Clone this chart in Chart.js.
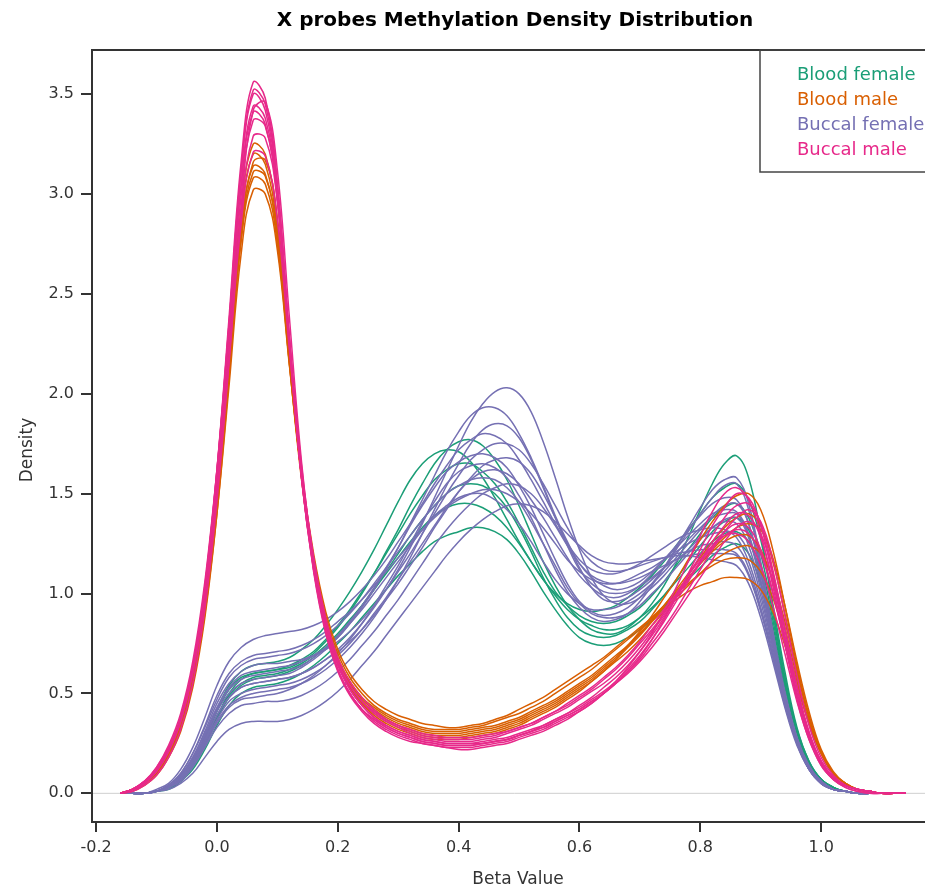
<!DOCTYPE html>
<html lang="en">
<head>
<meta charset="UTF-8">
<title>X probes Methylation Density Distribution</title>
<style>
    body {
        margin: 0;
        background: #fff;
        overflow: hidden;
    }
    #densityChart {
        display: block;
    }
</style>
</head>
<body>
<canvas id="densityChart" width="937" height="891"></canvas>

<script src="https://cdn.jsdelivr.net/npm/chart.js@4.4.0/dist/chart.umd.min.js"></script>
<script>
// beta value grid shared by every density curve
const betaGrid = [
    -0.16, -0.14, -0.12, -0.10, -0.08, -0.06, -0.04, -0.02, 0.00, 0.02,
    0.04, 0.06, 0.08, 0.10, 0.12, 0.14, 0.16, 0.18, 0.20, 0.22,
    0.24, 0.26, 0.28, 0.30, 0.32, 0.34, 0.36, 0.38, 0.40, 0.42,
    0.44, 0.46, 0.48, 0.50, 0.52, 0.54, 0.56, 0.58, 0.60, 0.62,
    0.64, 0.66, 0.68, 0.70, 0.72, 0.74, 0.76, 0.78, 0.80, 0.82,
    0.84, 0.86, 0.88, 0.90, 0.92, 0.94, 0.96, 0.98, 1.00, 1.02,
    1.04, 1.06, 1.08, 1.10, 1.12, 1.14
];

const xTicks = [-0.2, 0.0, 0.2, 0.4, 0.6, 0.8, 1.0];
const yTicks = [0.0, 0.5, 1.0, 1.5, 2.0, 2.5, 3.0, 3.5];

const groupNames = ['Blood female', 'Blood male', 'Buccal female', 'Buccal male'];

// Buccal male
const buccalMale = [
    [0.00,0.02,0.05,0.11,0.21,0.36,0.61,1.02,1.62,2.38, 3.16,3.56,3.48,3.06,2.28,1.58,1.11,0.80,0.61,0.49,
     0.41,0.35,0.31,0.28,0.26,0.25,0.24,0.23,0.23,0.23, 0.24,0.25,0.26,0.28,0.30,0.32,0.35,0.38,0.41,0.45,
     0.50,0.55,0.61,0.68,0.77,0.87,0.98,1.10,1.22,1.34, 1.43,1.50,1.48,1.34,1.09,0.79,0.50,0.28,0.14,0.07,
     0.03,0.01,0.00,0.00,0.00,0.00],
    [0.00,0.02,0.06,0.12,0.22,0.38,0.63,1.04,1.62,2.35, 3.11,3.50,3.42,3.02,2.26,1.58,1.12,0.82,0.62,0.50,
     0.42,0.37,0.33,0.30,0.28,0.26,0.25,0.24,0.24,0.24, 0.25,0.26,0.27,0.29,0.31,0.34,0.37,0.40,0.44,0.48,
     0.53,0.58,0.64,0.71,0.79,0.88,0.98,1.09,1.19,1.29, 1.38,1.44,1.45,1.35,1.12,0.83,0.54,0.31,0.16,0.08,
     0.04,0.02,0.01,0.00,0.00,0.00],
    [0.00,0.02,0.06,0.12,0.22,0.37,0.62,1.02,1.58,2.30, 3.05,3.44,3.38,3.00,2.25,1.58,1.13,0.83,0.64,0.52,
     0.44,0.38,0.34,0.31,0.29,0.27,0.26,0.25,0.25,0.25, 0.26,0.27,0.28,0.30,0.32,0.34,0.37,0.40,0.43,0.47,
     0.51,0.56,0.62,0.69,0.77,0.86,0.96,1.06,1.16,1.26, 1.34,1.40,1.39,1.28,1.06,0.78,0.50,0.29,0.15,0.08,
     0.04,0.02,0.01,0.00,0.00,0.00],
    [0.00,0.02,0.06,0.13,0.23,0.38,0.63,1.01,1.55,2.25, 2.99,3.37,3.34,2.98,2.26,1.61,1.16,0.86,0.66,0.54,
     0.46,0.40,0.36,0.33,0.30,0.28,0.27,0.26,0.26,0.26, 0.27,0.28,0.30,0.32,0.34,0.37,0.40,0.43,0.47,0.51,
     0.55,0.60,0.66,0.73,0.81,0.89,0.98,1.07,1.16,1.24, 1.31,1.35,1.33,1.22,1.01,0.75,0.49,0.29,0.16,0.08,
     0.04,0.02,0.01,0.00,0.00,0.00],
    [0.00,0.01,0.05,0.11,0.21,0.36,0.60,0.97,1.50,2.18, 2.90,3.29,3.28,2.96,2.28,1.64,1.18,0.86,0.65,0.52,
     0.44,0.38,0.34,0.31,0.29,0.27,0.26,0.25,0.25,0.25, 0.25,0.26,0.27,0.29,0.31,0.33,0.36,0.39,0.42,0.46,
     0.50,0.55,0.61,0.67,0.75,0.83,0.92,1.02,1.12,1.22, 1.31,1.38,1.42,1.36,1.17,0.89,0.59,0.34,0.18,0.09,
     0.04,0.02,0.01,0.00,0.00,0.00],
    [0.00,0.02,0.06,0.12,0.22,0.37,0.61,0.98,1.50,2.16, 2.85,3.21,3.19,2.87,2.22,1.62,1.18,0.88,0.68,0.56,
     0.48,0.42,0.37,0.34,0.31,0.29,0.28,0.27,0.27,0.27, 0.28,0.29,0.31,0.33,0.35,0.38,0.41,0.45,0.49,0.53,
     0.58,0.63,0.69,0.76,0.84,0.92,1.00,1.09,1.17,1.24, 1.29,1.30,1.26,1.14,0.94,0.70,0.46,0.27,0.15,0.07,
     0.04,0.02,0.01,0.00,0.00,0.00],
    [0.00,0.01,0.04,0.09,0.18,0.32,0.55,0.92,1.46,2.16, 2.93,3.42,3.46,3.12,2.38,1.66,1.16,0.83,0.62,0.50,
     0.42,0.36,0.32,0.29,0.27,0.25,0.24,0.23,0.22,0.22, 0.23,0.24,0.25,0.27,0.29,0.31,0.34,0.37,0.41,0.45,
     0.50,0.56,0.63,0.71,0.80,0.91,1.03,1.16,1.29,1.41, 1.50,1.53,1.47,1.30,1.04,0.75,0.47,0.27,0.14,0.07,
     0.03,0.01,0.00,0.00,0.00,0.00],
    [0.00,0.02,0.06,0.13,0.24,0.40,0.66,1.06,1.62,2.32, 3.04,3.41,3.35,2.97,2.24,1.59,1.15,0.85,0.66,0.54,
     0.46,0.41,0.37,0.34,0.32,0.30,0.29,0.28,0.28,0.28, 0.29,0.30,0.31,0.33,0.35,0.38,0.41,0.44,0.48,0.52,
     0.57,0.62,0.68,0.75,0.82,0.90,0.99,1.07,1.15,1.23, 1.29,1.32,1.30,1.20,1.00,0.75,0.50,0.30,0.16,0.08,
     0.04,0.02,0.01,0.00,0.00,0.00],
    [0.00,0.02,0.05,0.11,0.21,0.37,0.62,1.03,1.61,2.35, 3.12,3.52,3.45,3.04,2.27,1.58,1.12,0.81,0.62,0.50,
     0.42,0.37,0.33,0.30,0.28,0.26,0.25,0.24,0.24,0.24, 0.25,0.26,0.27,0.29,0.31,0.33,0.36,0.39,0.42,0.46,
     0.50,0.55,0.60,0.66,0.73,0.81,0.90,0.99,1.08,1.17, 1.26,1.33,1.36,1.30,1.10,0.82,0.53,0.30,0.16,0.08,
     0.04,0.02,0.01,0.00,0.00,0.00]
];

// Blood male
const bloodMale = [
    [0.00,0.02,0.05,0.11,0.21,0.36,0.60,0.98,1.53,2.23, 2.93,3.25,3.20,2.86,2.20,1.59,1.15,0.85,0.65,0.53,
     0.45,0.39,0.35,0.32,0.30,0.28,0.27,0.27,0.27,0.28, 0.29,0.30,0.32,0.34,0.37,0.40,0.43,0.47,0.51,0.56,
     0.61,0.67,0.74,0.81,0.89,0.98,1.07,1.17,1.27,1.36, 1.44,1.49,1.50,1.42,1.22,0.94,0.64,0.39,0.21,0.10,
     0.05,0.02,0.01,0.00,0.00,0.00],
    [0.00,0.02,0.05,0.11,0.20,0.35,0.58,0.96,1.50,2.19, 2.88,3.20,3.15,2.82,2.18,1.59,1.16,0.86,0.66,0.54,
     0.46,0.41,0.37,0.34,0.32,0.30,0.29,0.29,0.29,0.30, 0.31,0.32,0.34,0.36,0.39,0.42,0.45,0.49,0.53,0.57,
     0.62,0.67,0.73,0.79,0.86,0.94,1.02,1.10,1.18,1.26, 1.33,1.38,1.40,1.34,1.16,0.90,0.62,0.38,0.21,0.10,
     0.05,0.02,0.01,0.00,0.00,0.00],
    [0.00,0.02,0.05,0.11,0.20,0.34,0.57,0.94,1.47,2.15, 2.82,3.14,3.10,2.78,2.15,1.57,1.15,0.86,0.67,0.55,
     0.47,0.42,0.38,0.35,0.33,0.31,0.30,0.30,0.30,0.31, 0.32,0.33,0.35,0.37,0.40,0.43,0.46,0.50,0.54,0.58,
     0.63,0.68,0.74,0.80,0.87,0.94,1.01,1.08,1.15,1.21, 1.26,1.29,1.29,1.22,1.06,0.83,0.58,0.36,0.20,0.10,
     0.05,0.02,0.01,0.00,0.00,0.00],
    [0.00,0.02,0.05,0.11,0.21,0.35,0.58,0.94,1.45,2.10, 2.76,3.08,3.05,2.75,2.15,1.59,1.18,0.89,0.70,0.58,
     0.50,0.44,0.40,0.37,0.35,0.33,0.32,0.32,0.32,0.33, 0.34,0.36,0.38,0.40,0.43,0.46,0.50,0.54,0.58,0.62,
     0.67,0.72,0.77,0.82,0.88,0.94,1.00,1.05,1.10,1.14, 1.17,1.18,1.17,1.11,0.98,0.78,0.56,0.35,0.20,0.10,
     0.05,0.02,0.01,0.00,0.00,0.00],
    [0.00,0.02,0.05,0.10,0.19,0.33,0.55,0.90,1.40,2.04, 2.70,3.02,3.00,2.72,2.14,1.60,1.20,0.91,0.72,0.60,
     0.52,0.46,0.42,0.39,0.37,0.35,0.34,0.33,0.33,0.34, 0.35,0.37,0.39,0.42,0.45,0.48,0.52,0.56,0.60,0.64,
     0.68,0.73,0.78,0.83,0.88,0.93,0.97,1.01,1.04,1.06, 1.08,1.08,1.07,1.02,0.91,0.74,0.54,0.35,0.20,0.10,
     0.05,0.02,0.01,0.00,0.00,0.00],
    [0.00,0.01,0.04,0.09,0.18,0.31,0.53,0.88,1.40,2.08, 2.80,3.16,3.17,2.88,2.24,1.62,1.17,0.86,0.66,0.53,
     0.45,0.40,0.36,0.33,0.31,0.29,0.28,0.28,0.28,0.29, 0.30,0.31,0.33,0.35,0.38,0.41,0.44,0.48,0.52,0.56,
     0.61,0.66,0.71,0.77,0.84,0.91,0.99,1.07,1.15,1.22, 1.28,1.33,1.35,1.32,1.18,0.94,0.66,0.41,0.22,0.11,
     0.05,0.02,0.01,0.00,0.00,0.00],
    [0.00,0.02,0.05,0.10,0.19,0.33,0.56,0.92,1.44,2.10, 2.78,3.11,3.09,2.79,2.17,1.59,1.17,0.87,0.68,0.56,
     0.48,0.43,0.39,0.36,0.34,0.32,0.31,0.31,0.31,0.32, 0.33,0.34,0.36,0.38,0.41,0.44,0.47,0.51,0.55,0.59,
     0.64,0.69,0.74,0.80,0.86,0.92,0.98,1.04,1.10,1.16, 1.20,1.23,1.24,1.20,1.07,0.86,0.61,0.38,0.21,0.10,
     0.05,0.02,0.01,0.00,0.00,0.00]
];

// Buccal female
const buccalFemale = [
    [0.00,0.00,0.00,0.01,0.03,0.08,0.16,0.27,0.39,0.48, 0.53,0.55,0.56,0.57,0.58,0.60,0.63,0.67,0.72,0.78,
     0.85,0.93,1.02,1.12,1.23,1.35,1.48,1.61,1.74,1.86, 1.95,2.01,2.03,2.00,1.91,1.76,1.58,1.39,1.22,1.08,
     0.99,0.95,0.95,0.98,1.03,1.09,1.16,1.22,1.28,1.33, 1.36,1.35,1.24,1.02,0.74,0.47,0.26,0.13,0.06,0.02,
     0.01,0.00,0.00,0.00,0.00,0.00],
    [0.00,0.00,0.00,0.01,0.04,0.09,0.18,0.30,0.43,0.53, 0.59,0.61,0.62,0.63,0.64,0.66,0.69,0.73,0.78,0.85,
     0.93,1.02,1.12,1.23,1.35,1.47,1.59,1.71,1.81,1.89, 1.93,1.93,1.89,1.80,1.68,1.54,1.39,1.26,1.15,1.08,
     1.04,1.02,1.03,1.06,1.11,1.17,1.23,1.29,1.35,1.40, 1.42,1.41,1.30,1.07,0.78,0.50,0.28,0.14,0.06,0.02,
     0.01,0.00,0.00,0.00,0.00,0.00],
    [0.00,0.00,0.00,0.02,0.05,0.12,0.23,0.38,0.54,0.66, 0.73,0.77,0.79,0.80,0.81,0.82,0.84,0.87,0.91,0.96,
     1.02,1.09,1.17,1.26,1.35,1.45,1.55,1.64,1.72,1.77, 1.80,1.79,1.75,1.67,1.57,1.46,1.35,1.25,1.17,1.12,
     1.10,1.10,1.12,1.15,1.19,1.23,1.27,1.30,1.32,1.33, 1.32,1.28,1.16,0.96,0.71,0.46,0.26,0.13,0.06,0.02,
     0.01,0.00,0.00,0.00,0.00,0.00],
    [0.00,0.00,0.00,0.01,0.03,0.07,0.15,0.26,0.37,0.46, 0.50,0.52,0.53,0.54,0.55,0.57,0.60,0.64,0.69,0.75,
     0.82,0.90,0.98,1.07,1.16,1.25,1.34,1.43,1.51,1.57, 1.61,1.62,1.60,1.55,1.47,1.38,1.28,1.18,1.09,1.03,
     0.99,0.98,1.00,1.04,1.10,1.17,1.24,1.32,1.39,1.45, 1.48,1.47,1.35,1.10,0.79,0.50,0.27,0.13,0.06,0.02,
     0.01,0.00,0.00,0.00,0.00,0.00],
    [0.00,0.00,0.00,0.01,0.03,0.06,0.13,0.23,0.33,0.40, 0.44,0.45,0.46,0.46,0.47,0.49,0.52,0.56,0.61,0.67,
     0.74,0.81,0.89,0.97,1.06,1.15,1.24,1.32,1.39,1.45, 1.50,1.53,1.55,1.54,1.50,1.43,1.34,1.24,1.15,1.09,
     1.06,1.05,1.06,1.08,1.11,1.14,1.17,1.19,1.20,1.20, 1.20,1.19,1.09,0.91,0.68,0.44,0.25,0.12,0.05,0.02,
     0.01,0.00,0.00,0.00,0.00,0.00],
    [0.00,0.00,0.00,0.01,0.02,0.05,0.10,0.18,0.26,0.32, 0.35,0.36,0.36,0.36,0.37,0.39,0.42,0.46,0.51,0.57,
     0.64,0.71,0.79,0.87,0.95,1.03,1.11,1.19,1.26,1.32, 1.37,1.41,1.44,1.45,1.44,1.41,1.36,1.30,1.24,1.19,
     1.16,1.15,1.15,1.16,1.17,1.18,1.19,1.19,1.18,1.17, 1.16,1.14,1.05,0.88,0.66,0.43,0.24,0.12,0.05,0.02,
     0.01,0.00,0.00,0.00,0.00,0.00],
    [0.00,0.00,0.00,0.01,0.04,0.09,0.17,0.29,0.42,0.52, 0.57,0.59,0.60,0.61,0.62,0.64,0.68,0.73,0.79,0.86,
     0.94,1.03,1.13,1.23,1.34,1.44,1.53,1.61,1.66,1.69, 1.70,1.68,1.63,1.54,1.43,1.30,1.17,1.05,0.96,0.91,
     0.89,0.90,0.93,0.98,1.05,1.13,1.22,1.31,1.40,1.48, 1.54,1.55,1.42,1.14,0.80,0.49,0.26,0.12,0.05,0.02,
     0.01,0.00,0.00,0.00,0.00,0.00],
    [0.00,0.00,0.00,0.01,0.04,0.10,0.20,0.33,0.47,0.58, 0.64,0.67,0.68,0.69,0.70,0.72,0.75,0.79,0.84,0.90,
     0.97,1.05,1.13,1.21,1.29,1.37,1.44,1.50,1.54,1.57, 1.58,1.57,1.53,1.46,1.36,1.25,1.14,1.03,0.95,0.90,
     0.88,0.88,0.90,0.94,1.00,1.06,1.13,1.20,1.27,1.33, 1.37,1.38,1.28,1.05,0.76,0.48,0.26,0.13,0.06,0.02,
     0.01,0.00,0.00,0.00,0.00,0.00],
    [0.00,0.00,0.00,0.01,0.03,0.07,0.14,0.25,0.36,0.44, 0.48,0.50,0.51,0.52,0.53,0.55,0.58,0.62,0.67,0.73,
     0.80,0.88,0.97,1.07,1.18,1.30,1.42,1.54,1.65,1.75, 1.82,1.85,1.84,1.78,1.67,1.53,1.38,1.24,1.12,1.05,
     1.01,1.00,1.01,1.04,1.08,1.13,1.17,1.21,1.24,1.25, 1.26,1.24,1.13,0.93,0.69,0.45,0.25,0.12,0.05,0.02,
     0.01,0.00,0.00,0.00,0.00,0.00],
    [0.00,0.00,0.00,0.01,0.04,0.09,0.17,0.28,0.41,0.50, 0.55,0.57,0.58,0.59,0.60,0.63,0.67,0.72,0.78,0.85,
     0.92,1.00,1.08,1.16,1.24,1.32,1.39,1.44,1.48,1.50, 1.50,1.47,1.42,1.35,1.26,1.16,1.07,1.00,0.95,0.92,
     0.92,0.93,0.96,1.00,1.05,1.11,1.18,1.25,1.32,1.39, 1.44,1.45,1.35,1.11,0.81,0.51,0.28,0.13,0.06,0.02,
     0.01,0.00,0.00,0.00,0.00,0.00],
    [0.00,0.00,0.00,0.01,0.04,0.09,0.18,0.31,0.45,0.55, 0.61,0.64,0.65,0.65,0.66,0.67,0.69,0.72,0.76,0.81,
     0.87,0.94,1.02,1.11,1.20,1.30,1.40,1.50,1.59,1.67, 1.72,1.75,1.75,1.72,1.65,1.55,1.44,1.33,1.23,1.16,
     1.12,1.11,1.12,1.14,1.16,1.18,1.20,1.21,1.22,1.22, 1.22,1.20,1.10,0.92,0.69,0.45,0.25,0.12,0.05,0.02,
     0.01,0.00,0.00,0.00,0.00,0.00],
    [0.00,0.00,0.00,0.01,0.03,0.07,0.14,0.24,0.35,0.43, 0.47,0.48,0.49,0.50,0.52,0.55,0.59,0.64,0.70,0.77,
     0.85,0.94,1.04,1.14,1.25,1.36,1.46,1.55,1.61,1.64, 1.65,1.63,1.58,1.49,1.38,1.25,1.12,1.01,0.93,0.88,
     0.86,0.87,0.90,0.96,1.04,1.13,1.23,1.33,1.43,1.52, 1.57,1.58,1.45,1.16,0.81,0.49,0.26,0.12,0.05,0.02,
     0.01,0.00,0.00,0.00,0.00,0.00],
    [0.00,0.00,0.00,0.01,0.04,0.10,0.20,0.34,0.49,0.60, 0.66,0.69,0.70,0.71,0.72,0.74,0.77,0.81,0.86,0.91,
     0.97,1.04,1.11,1.18,1.25,1.32,1.38,1.43,1.47,1.50, 1.52,1.52,1.50,1.46,1.40,1.33,1.25,1.17,1.11,1.07,
     1.05,1.05,1.07,1.10,1.13,1.17,1.21,1.25,1.28,1.30, 1.31,1.30,1.20,0.99,0.73,0.47,0.26,0.13,0.06,0.02,
     0.01,0.00,0.00,0.00,0.00,0.00],
    [0.00,0.00,0.00,0.01,0.03,0.08,0.16,0.27,0.39,0.48, 0.53,0.55,0.56,0.57,0.58,0.60,0.63,0.67,0.71,0.76,
     0.82,0.89,0.97,1.05,1.14,1.23,1.33,1.42,1.51,1.58, 1.64,1.67,1.68,1.66,1.60,1.50,1.38,1.25,1.13,1.03,
     0.97,0.96,0.98,1.02,1.07,1.13,1.20,1.27,1.33,1.38, 1.40,1.40,1.29,1.06,0.77,0.49,0.27,0.13,0.06,0.02,
     0.01,0.00,0.00,0.00,0.00,0.00]
];

// Blood female
const bloodFemale = [
    [0.00,0.00,0.00,0.01,0.03,0.07,0.14,0.25,0.38,0.50, 0.57,0.60,0.61,0.62,0.63,0.66,0.70,0.76,0.83,0.91,
     1.00,1.10,1.21,1.32,1.44,1.55,1.65,1.72,1.76,1.77, 1.74,1.67,1.57,1.44,1.30,1.16,1.04,0.94,0.87,0.82,
     0.80,0.80,0.83,0.88,0.95,1.04,1.15,1.28,1.42,1.55, 1.65,1.69,1.58,1.30,0.93,0.58,0.31,0.15,0.06,0.02,
     0.01,0.00,0.00,0.00,0.00,0.00],
    [0.00,0.00,0.00,0.01,0.03,0.07,0.15,0.27,0.41,0.52, 0.58,0.60,0.61,0.62,0.64,0.67,0.71,0.77,0.84,0.92,
     1.01,1.10,1.20,1.30,1.40,1.49,1.57,1.62,1.65,1.65, 1.61,1.55,1.46,1.35,1.23,1.11,1.01,0.94,0.89,0.86,
     0.85,0.86,0.89,0.93,0.99,1.06,1.14,1.22,1.30,1.38, 1.43,1.45,1.38,1.20,0.90,0.58,0.32,0.16,0.07,0.03,
     0.01,0.00,0.00,0.00,0.00,0.00],
    [0.00,0.00,0.00,0.01,0.03,0.06,0.13,0.24,0.37,0.48, 0.54,0.57,0.58,0.59,0.61,0.64,0.68,0.73,0.79,0.86,
     0.94,1.02,1.11,1.20,1.29,1.37,1.44,1.50,1.54,1.55, 1.54,1.50,1.43,1.33,1.21,1.08,0.97,0.88,0.82,0.79,
     0.78,0.79,0.82,0.86,0.92,0.99,1.07,1.16,1.24,1.31, 1.36,1.38,1.32,1.15,0.87,0.56,0.31,0.15,0.07,0.03,
     0.01,0.00,0.00,0.00,0.00,0.00],
    [0.00,0.00,0.00,0.01,0.02,0.06,0.12,0.22,0.34,0.44, 0.50,0.53,0.54,0.55,0.57,0.60,0.64,0.69,0.75,0.81,
     0.88,0.95,1.02,1.09,1.15,1.21,1.26,1.29,1.31,1.33, 1.33,1.31,1.27,1.20,1.11,1.01,0.92,0.84,0.78,0.75,
     0.74,0.75,0.78,0.82,0.87,0.93,1.00,1.07,1.13,1.19, 1.23,1.25,1.20,1.05,0.81,0.53,0.30,0.15,0.07,0.03,
     0.01,0.00,0.00,0.00,0.00,0.00],
    [0.00,0.00,0.00,0.01,0.03,0.08,0.16,0.28,0.42,0.54, 0.61,0.64,0.65,0.66,0.68,0.72,0.77,0.84,0.92,1.01,
     1.11,1.22,1.34,1.46,1.57,1.65,1.70,1.72,1.71,1.66, 1.58,1.48,1.37,1.26,1.16,1.07,1.00,0.95,0.92,0.91,
     0.92,0.94,0.98,1.03,1.09,1.16,1.24,1.32,1.40,1.48, 1.53,1.55,1.47,1.27,0.95,0.61,0.33,0.16,0.07,0.03,
     0.01,0.00,0.00,0.00,0.00,0.00],
    [0.00,0.00,0.00,0.01,0.03,0.07,0.14,0.25,0.38,0.49, 0.55,0.58,0.59,0.60,0.62,0.65,0.69,0.74,0.80,0.87,
     0.94,1.02,1.10,1.18,1.26,1.33,1.39,1.43,1.45,1.45, 1.43,1.39,1.33,1.25,1.16,1.07,0.99,0.92,0.87,0.84,
     0.82,0.82,0.84,0.88,0.93,0.99,1.06,1.13,1.20,1.26, 1.30,1.31,1.26,1.10,0.84,0.55,0.31,0.15,0.07,0.03,
     0.01,0.00,0.00,0.00,0.00,0.00]
];

// Dark2 colours, same as the R plot
const groupColors = ['#1B9E77', '#D95F02', '#7570B3', '#E7298A'];

function toPoints(values) {
    return values.map((v, i) => ({ x: betaGrid[i], y: v }));
}

function makeSets(curves, color) {
    return curves.map((c) => ({
        data: toPoints(c),
        borderColor: color,
        borderWidth: 1.5,
        pointRadius: 0,
        tension: 0.4,
        fill: false
    }));
}

// first dataset is drawn on top
const datasets = [].concat(
    makeSets(buccalMale, groupColors[3]),
    makeSets(bloodMale, groupColors[1]),
    makeSets(buccalFemale, groupColors[2]),
    makeSets(bloodFemale, groupColors[0])
);

const FONT = "'DejaVu Sans', sans-serif";

// box, zero line, title, axis titles and legend in base R style
const rStyle = {
    id: 'rStyle',
    beforeDatasetsDraw(chart) {
        const { ctx, chartArea, scales } = chart;
        const y0 = scales.y.getPixelForValue(0);
        ctx.save();
        ctx.strokeStyle = '#cfcfcf';
        ctx.lineWidth = 1;
        ctx.beginPath();
        ctx.moveTo(chartArea.left, y0);
        ctx.lineTo(chartArea.right, y0);
        ctx.stroke();
        ctx.restore();
    },
    afterDraw(chart) {
        const { ctx, chartArea } = chart;
        ctx.save();
        ctx.strokeStyle = '#333';
        ctx.lineWidth = 2;
        ctx.strokeRect(chartArea.left, chartArea.top, chartArea.right - chartArea.left, chartArea.bottom - chartArea.top);

        ctx.fillStyle = '#000';
        ctx.font = 'bold 20px ' + FONT;
        ctx.textAlign = 'center';
        ctx.textBaseline = 'middle';
        ctx.fillText('X probes Methylation Density Distribution', 515, 21);

        ctx.fillStyle = '#333';
        ctx.font = '17px ' + FONT;
        ctx.fillText('Beta Value', 518, 880);
        ctx.translate(28, 450);
        ctx.rotate(-Math.PI / 2);
        ctx.fillText('Density', 0, 0);
        ctx.restore();

        // legend
        ctx.save();
        ctx.strokeStyle = '#444';
        ctx.lineWidth = 1.5;
        ctx.strokeRect(760, chartArea.top, 300, 122);
        ctx.font = '18px ' + FONT;
        ctx.textAlign = 'left';
        ctx.textBaseline = 'middle';
        groupNames.forEach((name, i) => {
            ctx.fillStyle = groupColors[i];
            ctx.fillText(name, 797, 75 + i * 25);
        });
        ctx.restore();
    }
};

const ctx = document.getElementById('densityChart').getContext('2d');
new Chart(ctx, {
    type: 'line',
    data: { datasets: datasets },
    options: {
        responsive: false,
        animation: false,
        events: [],
        layout: { padding: { top: 50, left: 0, right: 0, bottom: 0 } },
        plugins: {
            legend: { display: false },
            tooltip: { enabled: false },
            title: { display: false }
        },
        scales: {
            x: {
                type: 'linear',
                min: -0.2068,
                max: 1.1918,
                afterBuildTicks: (axis) => { axis.ticks = xTicks.map(v => ({ value: v })); },
                afterFit: (axis) => { axis.height = 69; },
                ticks: {
                    color: '#333',
                    font: { family: FONT, size: 16 },
                    padding: 6,
                    maxRotation: 0,
                    callback: (v) => v.toFixed(1)
                },
                grid: { drawOnChartArea: false, drawTicks: true, tickLength: 10, color: '#333', lineWidth: 2 },
                border: { display: false }
            },
            y: {
                type: 'linear',
                min: -0.1435,
                max: 3.7215,
                afterBuildTicks: (axis) => { axis.ticks = yTicks.map(v => ({ value: v })); },
                afterFit: (axis) => { axis.width = 92; },
                ticks: {
                    color: '#333',
                    font: { family: FONT, size: 16 },
                    padding: 7,
                    callback: (v) => v.toFixed(1)
                },
                grid: { drawOnChartArea: false, drawTicks: true, tickLength: 11, color: '#333', lineWidth: 2 },
                border: { display: false }
            }
        }
    },
    plugins: [rStyle]
});
</script>
</body>
</html>
